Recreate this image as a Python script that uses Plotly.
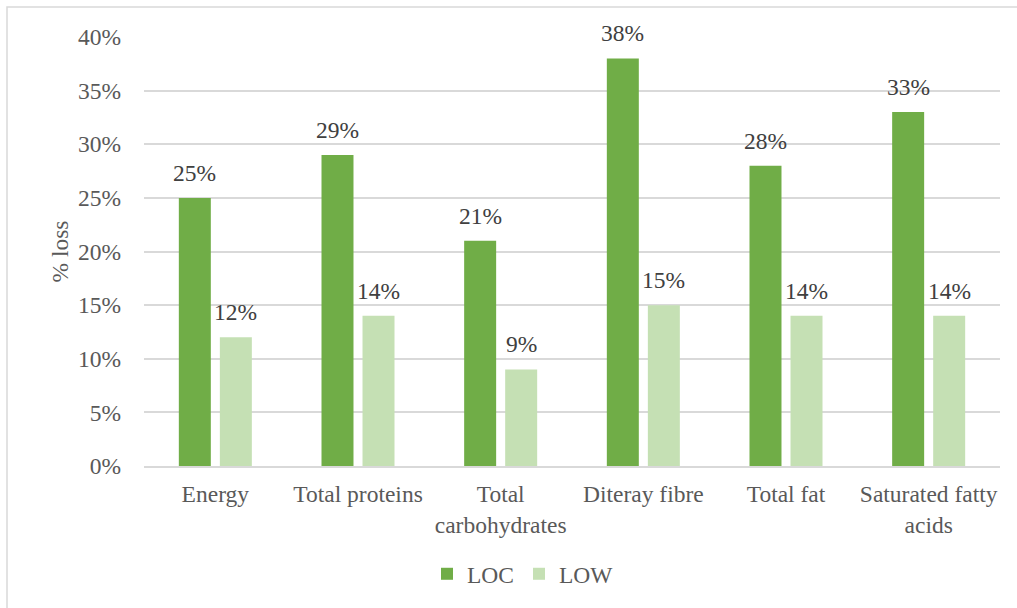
import plotly.graph_objects as go

categories = ["Energy", "Total proteins", "Total<br>carbohydrates", "Diteray fibre",
              "Total fat", "Saturated fatty<br>acids"]
loc_values = [0.25, 0.29, 0.21, 0.38, 0.28, 0.33]
low_values = [0.12, 0.14, 0.09, 0.15, 0.14, 0.14]
tick_vals = [0, 0.05, 0.10, 0.15, 0.20, 0.25, 0.30, 0.35, 0.40]

FONT = "'Liberation Serif', 'Times New Roman', Times, serif"
FS = 23.5
W, H = 1017, 608
L, R, T, B = 144, 17, 37, 142

fig = go.Figure()
series = [("LOC", loc_values, "#70AD47", -20.5), ("LOW", low_values, "#C5E0B4", 20.5)]
for name, vals, color, _ in series:
    fig.add_trace(go.Bar(
        name=name, x=categories, y=vals, marker=dict(color=color, line=dict(width=0)),
    ))

# value labels above each bar
annotations = []
for name, vals, color, shift in series:
    for cat, v in zip(categories, vals):
        annotations.append(dict(
            x=cat, y=v, xref="x", yref="y", text=f"{v:.0%}", showarrow=False,
            xshift=shift, yshift=10, yanchor="bottom",
            font=dict(family=FONT, size=FS, color="#404040"),
        ))

pw, ph = W - L - R, H - T - B
def px(x): return (x - L) / pw
def py(y): return (H - B - y) / ph

fig.update_layout(
    width=W, height=H, margin=dict(l=L, r=R, t=T, b=B),
    paper_bgcolor="white", plot_bgcolor="white",
    barmode="group", bargap=0.425, bargroupgap=0.22,
    font=dict(family=FONT, size=FS, color="#595959"),
    showlegend=True,
    legend=dict(orientation="h", x=px(523), xanchor="center", y=py(574), yanchor="middle",
                font=dict(family=FONT, size=FS, color="#595959"), itemwidth=30,
                traceorder="normal"),
    xaxis=dict(showgrid=False, showline=True, linecolor="#D9D9D9", linewidth=1.5,
               ticks="", ticklabelstandoff=6,
               tickfont=dict(family=FONT, size=FS, color="#595959")),
    yaxis=dict(range=[0, 0.4], tickvals=tick_vals, tickformat=".0%",
               showgrid=True, gridcolor="#D9D9D9", gridwidth=1.5, zeroline=False,
               showline=False, ticks="", ticklabelstandoff=22,
               tickfont=dict(family=FONT, size=FS, color="#595959"),
               title=dict(text="% loss", font=dict(family=FONT, size=FS, color="#595959"),
                          standoff=2)),
    annotations=annotations,
    shapes=[dict(type="rect", xref="paper", yref="paper",
                 x0=px(7), x1=px(1040), y0=py(630), y1=py(7),
                 line=dict(color="#D9D9D9", width=1.5), fillcolor="rgba(0,0,0,0)",
                 layer="below")],
)

fig.write_html("out.html")
